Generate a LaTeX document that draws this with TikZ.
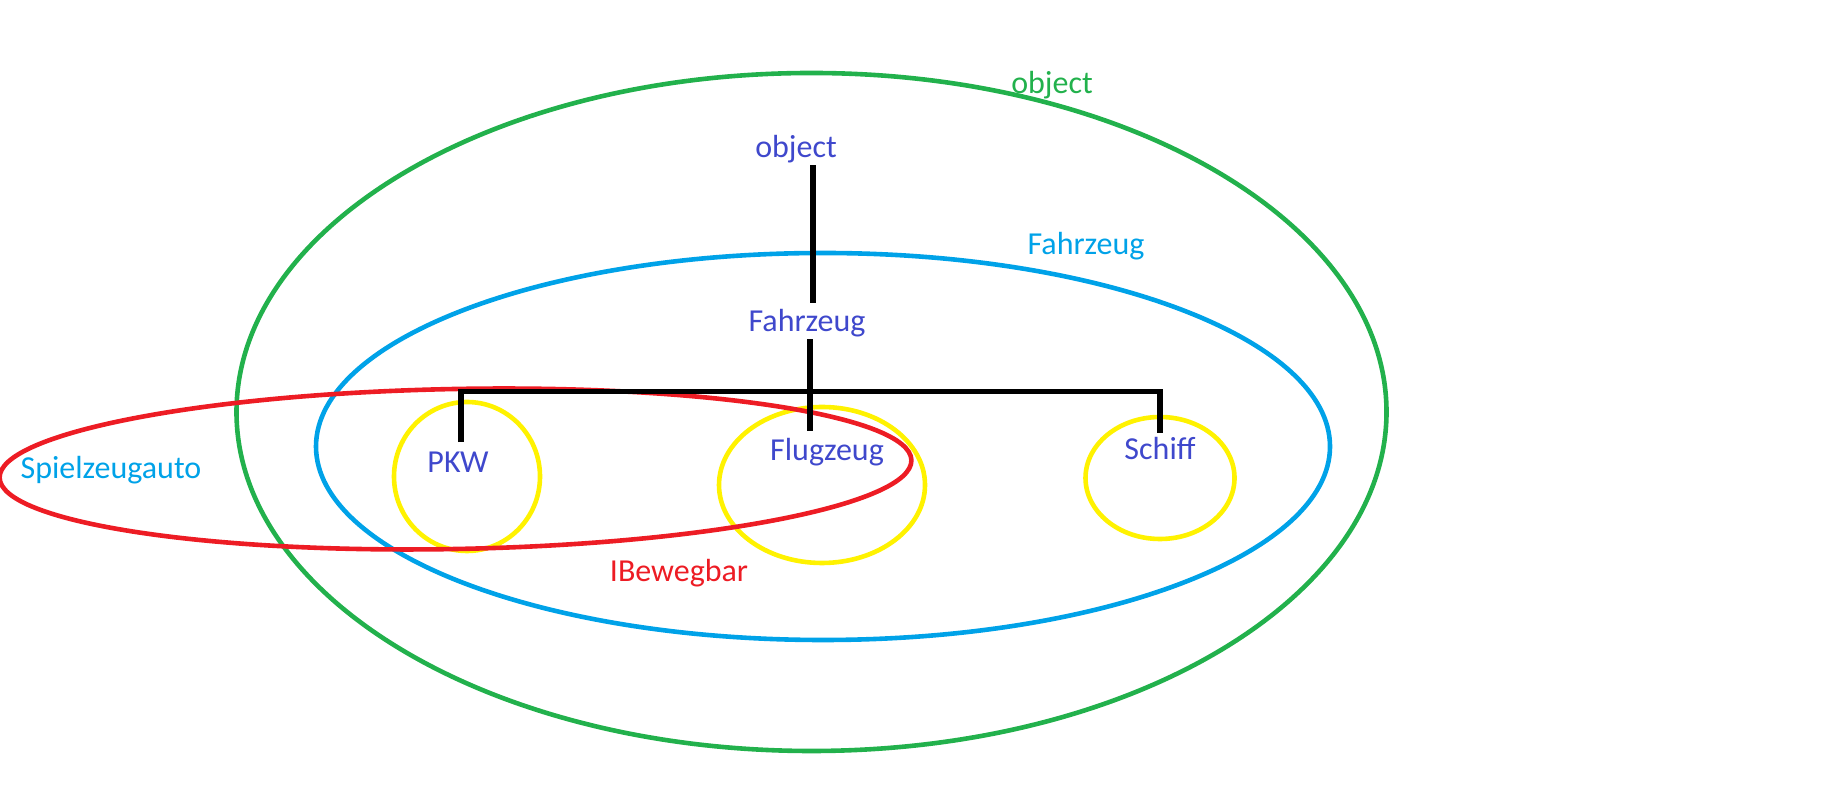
\documentclass[tikz,border=0pt]{standalone}
\usepackage{fontspec}
\setmainfont{Carlito}
\usetikzlibrary{positioning}

\definecolor{paintgreen}{RGB}{34,177,76}
\definecolor{paintblue}{RGB}{0,162,232}
\definecolor{paintred}{RGB}{237,28,36}
\definecolor{paintyellow}{RGB}{255,242,0}
\definecolor{paintindigo}{RGB}{63,72,204}

\begin{document}
\begin{tikzpicture}[x=1pt,y=1pt,
		set/.style={line width=4.6pt},
		tree/.style={line width=5.5pt, black},
		cls/.style={inner sep=2pt, text=paintindigo, font=\fontsize{32}{38}\selectfont},
		setlabel/.style={inner sep=2pt, font=\fontsize{32}{38}\selectfont}]
		\useasboundingbox (0,0) rectangle (1827,791);
		% sets
		\draw[set, paintgreen] (811.5,379) ellipse [x radius=575, y radius=339];
		\draw[set, paintblue] (823,344.5) ellipse [x radius=507, y radius=193.5];
		\draw[set, paintyellow] (467,314.5) ellipse [x radius=73, y radius=74.5];
		\draw[set, paintyellow] (822,306) ellipse [x radius=103, y radius=78];
		\draw[set, paintyellow] (1160,313) ellipse [x radius=74.5, y radius=61];
		\draw[set, paintred] (455.5,322) ellipse [x radius=456, y radius=80, rotate=1.1];
		% set labels
		\node[setlabel, text=paintgreen] (objectset) at (1052,706) {object};
		\node[setlabel, text=paintblue] (fahrzeugset) at (1086,545) {Fahrzeug};
		\node[setlabel, text=paintred] (bewegbar) at (679,218) {IBewegbar};
		\node[setlabel, text=paintblue] (spielzeugauto) at (111,320.5) {Spielzeugauto};
		% classes
		\node[cls] (object) at (796,642) {object};
		\node[cls] (fahrzeug) at (807,468) {Fahrzeug};
		\node[cls] (pkw) at (458,328.5) {PKW};
		\node[cls] (flugzeug) at (827,339) {Flugzeug};
		\node[cls] (schiff) at (1160,342.5) {Schiff};
		\coordinate (bar) at (810,399.5);
		% hierarchy
		\draw[tree] ([xshift=17pt]object.south) -- ([xshift=6pt,yshift=4pt]fahrzeug.north);
		\draw[tree] ([xshift=3pt]fahrzeug.south) -- (bar);
		\draw[tree] ([xshift=3pt,yshift=8pt]pkw.north) |- (bar) -| ([yshift=2pt]schiff.north);
		\draw[tree] (bar) -- ++(0,-39.5);
	\end{tikzpicture}
\end{document}
